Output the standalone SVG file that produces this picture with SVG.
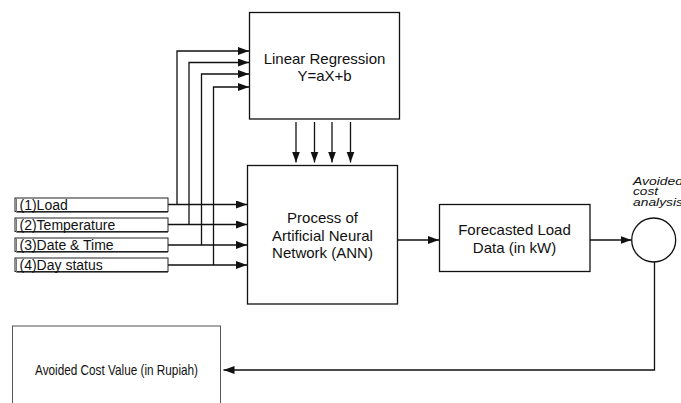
<svg xmlns="http://www.w3.org/2000/svg" width="681" height="403" viewBox="0 0 681 403">
  <style>
    .box { fill: #fff; stroke: #111; stroke-width: 1.3; }
    .inbox { fill: #fff; stroke: #222; stroke-width: 1; }
    .shade { fill: none; stroke: #777; stroke-width: 1; }
    .wire { fill: none; stroke: #111; stroke-width: 1.3; }
    .lbl { font-family: "Liberation Sans", Arial, sans-serif; font-size: 15px; fill: #111; text-anchor: middle; }
    .in { font-family: "Liberation Sans", Arial, sans-serif; font-size: 14px; fill: #111; }
    .note { font-family: "Liberation Sans", Arial, sans-serif; font-size: 10px; font-style: italic; fill: #111; }
  </style>
  <defs>
    <marker id="arr" markerUnits="userSpaceOnUse" markerWidth="12" markerHeight="10" refX="11" refY="4" orient="auto">
      <path d="M0,0 L11,4 L0,8 Z" fill="#111"/>
    </marker>
  </defs>

  <rect width="681" height="403" fill="#fff"/>

  <!-- connectors -->
  <g id="connectors">
    <!-- inputs into the ANN -->
    <path class="wire" d="M168,204.5 H247" marker-end="url(#arr)"/>
    <path class="wire" d="M168,224.5 H247" marker-end="url(#arr)"/>
    <path class="wire" d="M168,245 H247" marker-end="url(#arr)"/>
    <path class="wire" d="M168,265 H247" marker-end="url(#arr)"/>
    <!-- branches up to the regression -->
    <path class="wire" d="M177,204.5 V51 H249" marker-end="url(#arr)"/>
    <path class="wire" d="M189,224.5 V62.5 H249" marker-end="url(#arr)"/>
    <path class="wire" d="M201.5,245 V74 H249" marker-end="url(#arr)"/>
    <path class="wire" d="M213.5,265 V87 H249" marker-end="url(#arr)"/>
    <!-- regression outputs down into the ANN -->
    <path class="wire" d="M296,122 V162.5" marker-end="url(#arr)"/>
    <path class="wire" d="M314.5,122 V162.5" marker-end="url(#arr)"/>
    <path class="wire" d="M332,122 V162.5" marker-end="url(#arr)"/>
    <path class="wire" d="M350.5,122 V162.5" marker-end="url(#arr)"/>
    <!-- main flow -->
    <path class="wire" d="M398,240 H439" marker-end="url(#arr)"/>
    <path class="wire" d="M590,240 H631.5" marker-end="url(#arr)"/>
    <path class="wire" d="M654.5,262 V370 H223.5" marker-end="url(#arr)"/>
  </g>

  <!-- input variables -->
  <g id="input-load">
    <rect class="inbox" x="15" y="198" width="153" height="13.5"/>
    <path class="shade" d="M16.5,198.5 V212.5 H168"/>
    <text class="in" x="19.5" y="210">(1)Load</text>
  </g>
  <g id="input-temperature">
    <rect class="inbox" x="15" y="218" width="153" height="13.5"/>
    <path class="shade" d="M16.5,218.5 V232.5 H168"/>
    <text class="in" x="19.5" y="230">(2)Temperature</text>
  </g>
  <g id="input-datetime">
    <rect class="inbox" x="15" y="238" width="153" height="13.5"/>
    <path class="shade" d="M16.5,238.5 V252.5 H168"/>
    <text class="in" x="19.5" y="250">(3)Date &amp; Time</text>
  </g>
  <g id="input-daystatus">
    <rect class="inbox" x="15" y="258" width="153" height="13.5"/>
    <path class="shade" d="M16.5,258.5 V272.5 H168"/>
    <text class="in" x="19.5" y="270">(4)Day status</text>
  </g>

  <!-- linear regression -->
  <g id="linear-regression">
    <rect class="box" x="249.5" y="12.5" width="150" height="106.5"/>
    <text class="lbl" x="324.5" y="63.5">Linear Regression</text>
    <text class="lbl" x="324.5" y="81">Y=aX+b</text>
  </g>

  <!-- neural network -->
  <g id="ann">
    <rect class="box" x="247.5" y="165.5" width="150" height="138.5"/>
    <text class="lbl" x="322.5" y="223">Process of</text>
    <text class="lbl" x="322.5" y="240.5">Artificial Neural</text>
    <text class="lbl" x="322.5" y="258">Network (ANN)</text>
  </g>

  <!-- forecast output -->
  <g id="forecast">
    <rect class="box" x="439.5" y="204.5" width="150.5" height="67"/>
    <text class="lbl" x="514.5" y="235">Forecasted Load</text>
    <text class="lbl" x="514.5" y="253">Data (in kW)</text>
  </g>

  <!-- avoided cost analysis -->
  <g id="analysis">
    <circle cx="653.7" cy="240" r="22" fill="#fff" stroke="#111" stroke-width="1.3"/>
    <text class="note" x="633" y="184.5" textLength="50" lengthAdjust="spacingAndGlyphs">Avoided</text>
    <text class="note" x="633" y="195" textLength="25" lengthAdjust="spacingAndGlyphs">cost</text>
    <text class="note" x="633" y="205.5" textLength="50" lengthAdjust="spacingAndGlyphs">analysis</text>
  </g>

  <!-- result -->
  <g id="avoided-cost-value">
    <rect x="12.5" y="326" width="208" height="90" fill="#fff" stroke="#555" stroke-width="1"/>
    <text class="in" x="116.5" y="375" text-anchor="middle" font-size="15" textLength="163" lengthAdjust="spacingAndGlyphs" style="font-size:15px">Avoided Cost Value (in Rupiah)</text>
  </g>
</svg>
